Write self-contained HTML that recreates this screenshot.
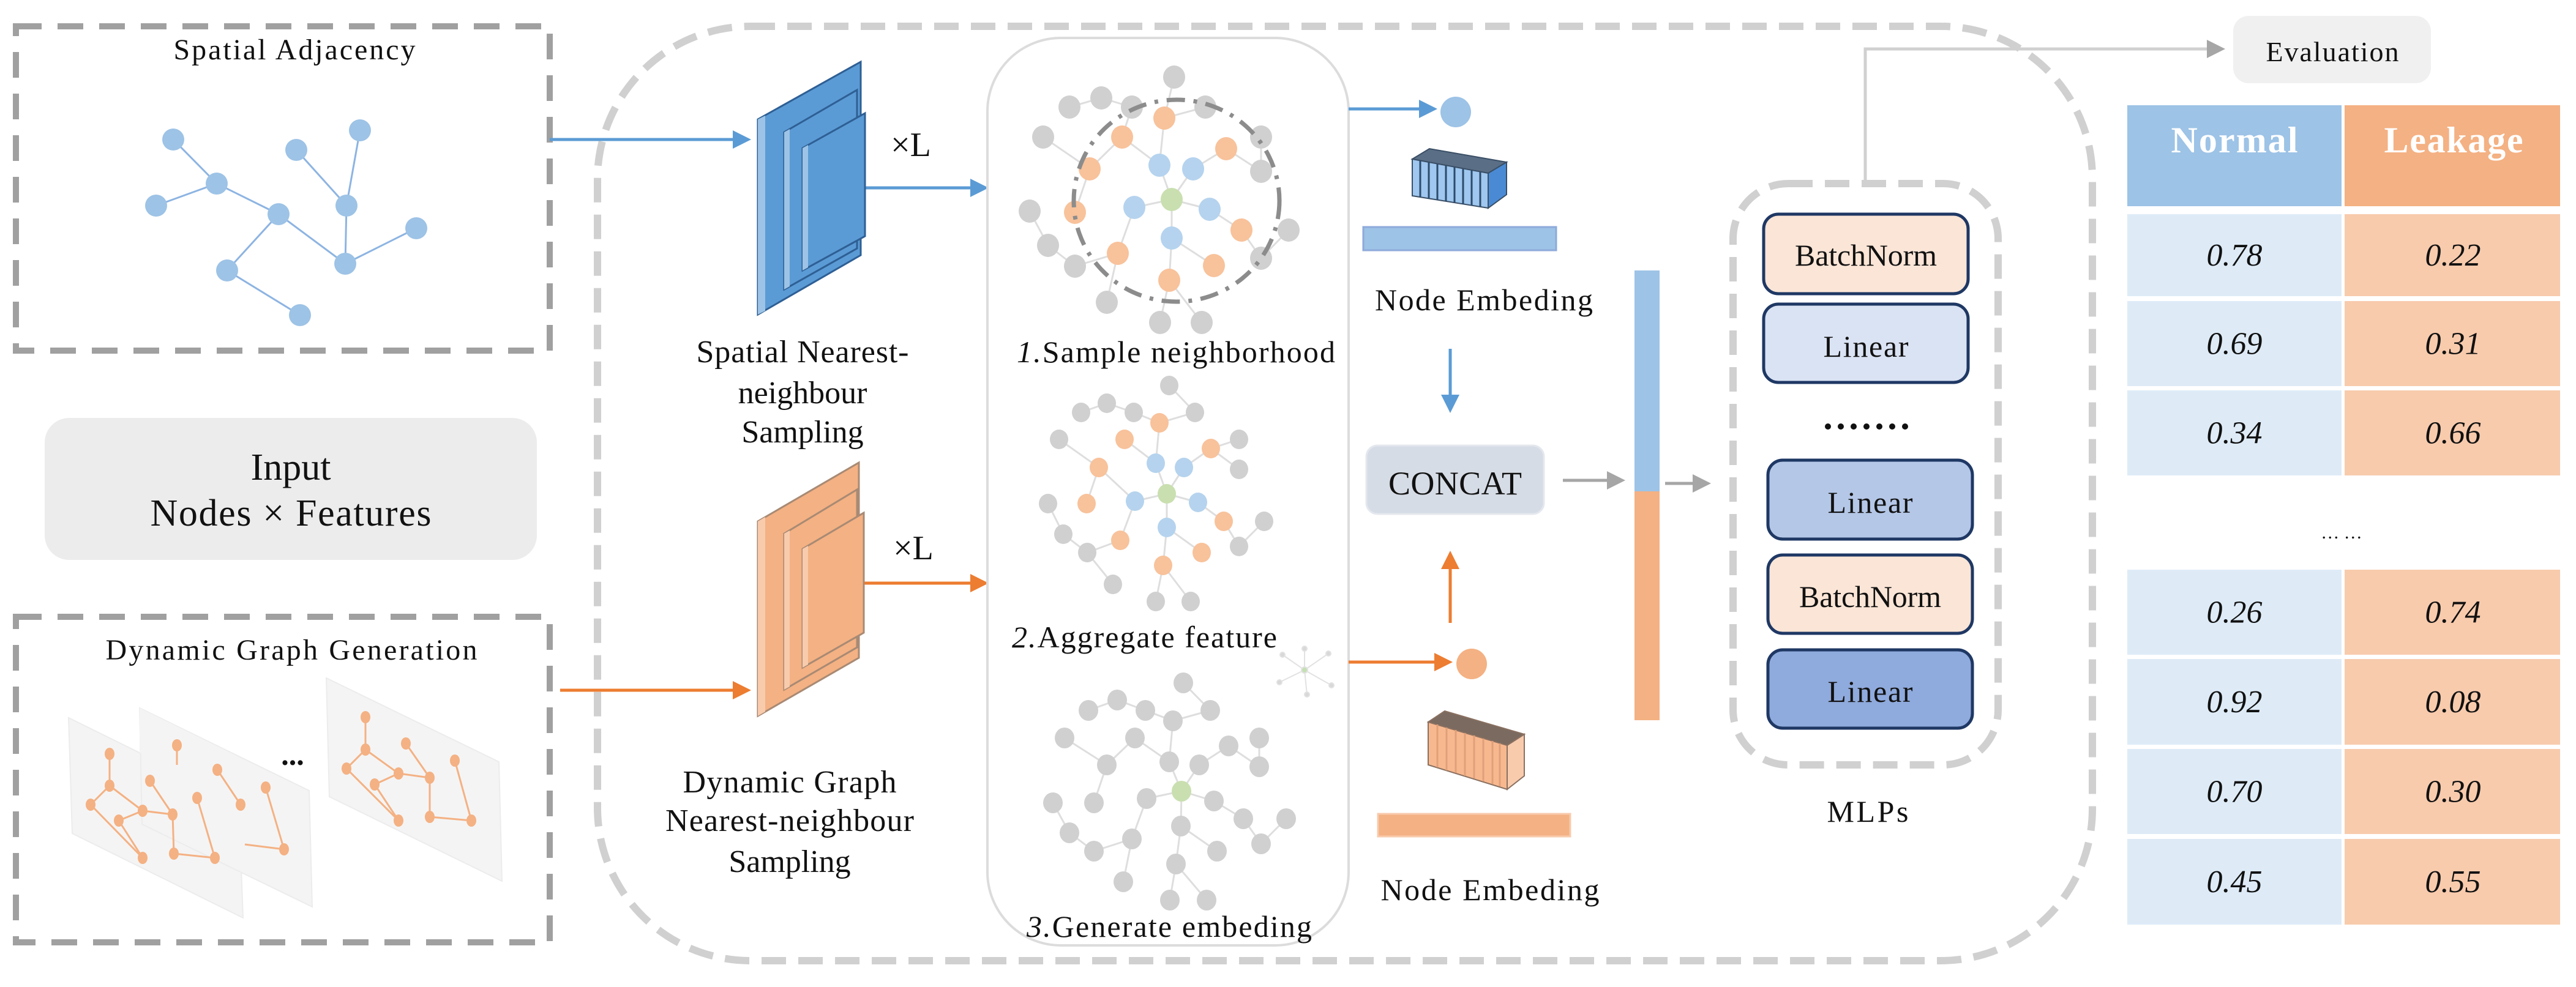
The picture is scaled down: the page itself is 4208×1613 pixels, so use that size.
<!DOCTYPE html>
<html><head><meta charset="utf-8"><style>
html,body{margin:0;padding:0;background:#fff;}
svg{display:block;font-family:"Liberation Serif","DejaVu Serif","Times New Roman",serif;}
svg text{font-family:"Liberation Serif","DejaVu Serif","Times New Roman",serif !important;fill:#111;}
</style></head><body>
<svg id="s" width="4208" height="1613" viewBox="0 0 4208 1613" xmlns="http://www.w3.org/2000/svg" font-family="Liberation Serif, DejaVu Serif, serif">
<defs>
<marker id="ab" markerWidth="6" markerHeight="6" refX="5" refY="3" orient="auto" markerUnits="strokeWidth"><path d="M0,0 L6,3 L0,6 z" fill="#5b9bd5"/></marker>
<marker id="ao" markerWidth="6" markerHeight="6" refX="5" refY="3" orient="auto" markerUnits="strokeWidth"><path d="M0,0 L6,3 L0,6 z" fill="#ed7d31"/></marker>
<marker id="ag" markerWidth="6" markerHeight="6" refX="5" refY="3" orient="auto" markerUnits="strokeWidth"><path d="M0,0 L6,3 L0,6 z" fill="#a6a6a6"/></marker>
</defs>

<path d="M1226,43 H3170 A248,248 0 0 1 3418,291 V1322 A248,248 0 0 1 3170,1570 H1226 A250,250 0 0 1 976,1320 V293 A250,250 0 0 1 1226,43 Z" fill="none" stroke="#d0d0d0" stroke-width="12" stroke-dasharray="40 20"/>

<rect x="26" y="43" width="872" height="530" fill="none" stroke="#a0a0a0" stroke-width="10" stroke-dasharray="42 26"/>
<rect x="26" y="1008" width="872" height="532" fill="none" stroke="#a0a0a0" stroke-width="10" stroke-dasharray="42 26"/>
<rect x="73" y="683" width="804" height="232" rx="40" fill="#ececec"/>
<text x="481" y="97" font-size="48" text-anchor="middle" textLength="395">Spatial Adjacency</text>
<text x="475" y="784" font-size="62" text-anchor="middle">Input</text>
<text x="475" y="859" font-size="62" text-anchor="middle" textLength="459">Nodes × Features</text>
<text x="476" y="1078" font-size="48" text-anchor="middle" textLength="607">Dynamic Graph Generation</text>

<g stroke="#8db4e2" stroke-width="3">
<line x1="283" y1="228" x2="354" y2="300"/><line x1="354" y1="300" x2="255" y2="336"/><line x1="354" y1="300" x2="455" y2="350"/><line x1="455" y1="350" x2="371" y2="442"/><line x1="371" y1="442" x2="490" y2="515"/><line x1="455" y1="350" x2="564" y2="431"/><line x1="564" y1="431" x2="566" y2="336"/><line x1="566" y1="336" x2="484" y2="245"/><line x1="566" y1="336" x2="588" y2="213"/><line x1="564" y1="431" x2="680" y2="373"/>
</g>
<g fill="#9dc3e6">
<circle cx="283" cy="228" r="18"/><circle cx="354" cy="300" r="18"/><circle cx="255" cy="336" r="18"/><circle cx="455" cy="350" r="18"/><circle cx="484" cy="245" r="18"/><circle cx="588" cy="213" r="18"/><circle cx="566" cy="336" r="18"/><circle cx="564" cy="431" r="18"/><circle cx="680" cy="373" r="18"/><circle cx="371" cy="442" r="18"/><circle cx="490" cy="515" r="18"/>
</g>

<g fill="#f4f4f4" stroke="#ececec" stroke-width="2">
<polygon points="112,1173 390,1310 397,1500 118,1362"/>
<polygon points="228,1157 505,1292 510,1482 232,1347"/>
<polygon points="533,1108 815,1245 820,1440 538,1302"/>
</g>
<polygon points="228,1157 390,1237 390,1310 228,1230" fill="#f4f4f4"/>
<g stroke="#f4b183" stroke-width="3" fill="none">
<polyline points="179,1232 179,1284 148,1315 233,1402"/><polyline points="179,1284 233,1325 282,1331 284,1395 351,1402"/><polyline points="194,1341 233,1325"/><polyline points="194,1341 233,1402"/><polyline points="245,1276 282,1331"/><polyline points="322,1304 351,1402"/>
<polyline points="289,1218 289,1250"/><polyline points="355,1258 393,1315"/><polyline points="434,1287 464,1388 400,1380"/>
<polyline points="597,1172 597,1225 566,1256 651,1341"/><polyline points="597,1225 651,1264 702,1271 702,1335 770,1341"/><polyline points="612,1282 651,1264"/><polyline points="612,1282 651,1341"/><polyline points="663,1215 702,1271"/><polyline points="743,1243 770,1341"/>
</g>
<g fill="#f4b183">
<ellipse cx="179" cy="1232" rx="8" ry="10"/><ellipse cx="179" cy="1284" rx="8" ry="10"/><ellipse cx="148" cy="1315" rx="8" ry="10"/><ellipse cx="194" cy="1341" rx="8" ry="10"/><ellipse cx="233" cy="1325" rx="8" ry="10"/><ellipse cx="245" cy="1276" rx="8" ry="10"/><ellipse cx="282" cy="1331" rx="8" ry="10"/><ellipse cx="322" cy="1304" rx="8" ry="10"/><ellipse cx="233" cy="1402" rx="8" ry="10"/><ellipse cx="284" cy="1395" rx="8" ry="10"/><ellipse cx="351" cy="1402" rx="8" ry="10"/>
<ellipse cx="289" cy="1218" rx="8" ry="10"/><ellipse cx="355" cy="1258" rx="8" ry="10"/><ellipse cx="393" cy="1315" rx="8" ry="10"/><ellipse cx="434" cy="1287" rx="8" ry="10"/><ellipse cx="464" cy="1388" rx="8" ry="10"/>
<ellipse cx="597" cy="1172" rx="8" ry="10"/><ellipse cx="597" cy="1225" rx="8" ry="10"/><ellipse cx="566" cy="1256" rx="8" ry="10"/><ellipse cx="612" cy="1282" rx="8" ry="10"/><ellipse cx="651" cy="1264" rx="8" ry="10"/><ellipse cx="663" cy="1215" rx="8" ry="10"/><ellipse cx="702" cy="1271" rx="8" ry="10"/><ellipse cx="743" cy="1243" rx="8" ry="10"/><ellipse cx="651" cy="1341" rx="8" ry="10"/><ellipse cx="702" cy="1335" rx="8" ry="10"/><ellipse cx="770" cy="1341" rx="8" ry="10"/>
</g>
<text x="478" y="1250" font-size="50" text-anchor="middle" font-weight="bold">...</text>

<line x1="898" y1="228" x2="1222" y2="228" stroke="#5b9bd5" stroke-width="5" marker-end="url(#ab)"/>
<line x1="915" y1="1128" x2="1222" y2="1128" stroke="#ed7d31" stroke-width="5" marker-end="url(#ao)"/>
<line x1="1412" y1="307" x2="1610" y2="307" stroke="#5b9bd5" stroke-width="5" marker-end="url(#ab)"/>
<line x1="1412" y1="953" x2="1610" y2="953" stroke="#ed7d31" stroke-width="5" marker-end="url(#ao)"/>

<g stroke="#2e5f94" stroke-width="3">
<polygon points="1238,195 1406,101 1406,417 1238,514" fill="#5b9bd5"/>
<polygon points="1238,195 1250,189 1250,508 1238,514" fill="#9dc3e6" stroke="none"/>
<polygon points="1281,216 1400,147 1400,406 1281,473" fill="#5b9bd5"/>
<polygon points="1281,216 1290,211 1290,468 1281,473" fill="#9dc3e6" stroke="none"/>
<polygon points="1311,242 1413,185 1413,386 1311,442" fill="#5b9bd5"/>
<polygon points="1311,242 1320,237 1320,437 1311,442" fill="#9dc3e6" stroke="none"/>
</g>
<g stroke="#a88a74" stroke-width="3">
<polygon points="1238,852 1403,756 1403,1075 1238,1170" fill="#f4b183"/>
<polygon points="1238,852 1250,845 1250,1163 1238,1170" fill="#f8cbad" stroke="none"/>
<polygon points="1281,872 1400,800 1400,1058 1281,1127" fill="#f4b183"/>
<polygon points="1281,872 1290,867 1290,1122 1281,1127" fill="#f8cbad" stroke="none"/>
<polygon points="1311,897 1411,838 1411,1034 1311,1091" fill="#f4b183"/>
<polygon points="1311,897 1320,892 1320,1086 1311,1091" fill="#f8cbad" stroke="none"/>
</g>
<text x="1488" y="255" font-size="56" text-anchor="middle">×L</text>
<text x="1492" y="914" font-size="56" text-anchor="middle">×L</text>
<g font-size="52" text-anchor="middle">
<text x="1311" y="592" textLength="347">Spatial Nearest-</text>
<text x="1311" y="659">neighbour</text>
<text x="1311" y="723">Sampling</text>
<text x="1290" y="1295" textLength="349">Dynamic Graph</text>
<text x="1290" y="1358" textLength="406">Nearest-neighbour</text>
<text x="1290" y="1425">Sampling</text>
</g>

<rect x="1613" y="62" width="590" height="1483" rx="120" fill="#fff" stroke="#dcdcdc" stroke-width="4"/>
<g id="edges" stroke="#dedede" stroke-width="3"></g>
<g id="nodes"></g>
<ellipse cx="1922" cy="328" rx="168" ry="165" fill="none" stroke="#8c8c8c" stroke-width="7" stroke-dasharray="30 14 6 14"/>
<g font-size="50">
<text x="1661" y="592" textLength="520"><tspan font-style="italic">1.</tspan>Sample neighborhood</text>
<text x="1653" y="1058" textLength="433"><tspan font-style="italic">2.</tspan>Aggregate feature</text>
<text x="1677" y="1531" textLength="466"><tspan font-style="italic">3.</tspan>Generate embeding</text>
</g>
<g stroke="#e2e2e2" stroke-width="2" fill="#d8d8d8">
<line x1="2131" y1="1095" x2="2095" y2="1070"/><line x1="2131" y1="1095" x2="2170" y2="1068"/><line x1="2131" y1="1095" x2="2090" y2="1115"/><line x1="2131" y1="1095" x2="2175" y2="1120"/><line x1="2131" y1="1095" x2="2131" y2="1060"/><line x1="2131" y1="1095" x2="2135" y2="1135"/>
<circle cx="2095" cy="1070" r="4"/><circle cx="2170" cy="1068" r="4"/><circle cx="2090" cy="1115" r="4"/><circle cx="2175" cy="1120" r="4"/><circle cx="2131" cy="1060" r="4"/><circle cx="2135" cy="1135" r="4"/><circle cx="2131" cy="1095" r="5" fill="#c5e0b4"/>
</g>

<line x1="2203" y1="178" x2="2343" y2="178" stroke="#5b9bd5" stroke-width="5" marker-end="url(#ab)"/>
<circle cx="2378" cy="183" r="25" fill="#9dc3e6"/>
<g stroke="#3a4f66" stroke-width="2">
<polygon points="2307,260 2335,243 2461,265 2431,283" fill="#5a6f86"/>
<polygon points="2431,283 2461,265 2461,318 2431,340" fill="#4a8ad4"/>
<polygon points="2307,260 2431,283 2431,340 2307,320" fill="#9fc7ef"/>
</g>
<g stroke="#2d4b6b" stroke-width="3">
<line x1="2320" y1="262" x2="2320" y2="322"/><line x1="2334" y1="265" x2="2334" y2="325"/><line x1="2348" y1="268" x2="2348" y2="327"/><line x1="2362" y1="270" x2="2362" y2="329"/><line x1="2376" y1="273" x2="2376" y2="331"/><line x1="2390" y1="276" x2="2390" y2="334"/><line x1="2404" y1="278" x2="2404" y2="336"/><line x1="2418" y1="281" x2="2418" y2="338"/>
</g>
<rect x="2227" y="371" width="315" height="38" fill="#9dc3e6" stroke="#8eaadb" stroke-width="3"/>
<text x="2424" y="507" font-size="50" text-anchor="middle" textLength="356">Node Embeding</text>
<line x1="2369" y1="570" x2="2369" y2="670" stroke="#5b9bd5" stroke-width="5" marker-end="url(#ab)"/>
<rect x="2232" y="728" width="290" height="112" rx="18" fill="#d6dce5" stroke="#e4e8ee" stroke-width="3"/>
<text x="2377" y="808" font-size="54" text-anchor="middle" textLength="218">CONCAT</text>
<line x1="2369" y1="1018" x2="2369" y2="905" stroke="#ed7d31" stroke-width="5" marker-end="url(#ao)"/>
<line x1="2203" y1="1082" x2="2368" y2="1082" stroke="#ed7d31" stroke-width="5" marker-end="url(#ao)"/>
<circle cx="2404" cy="1085" r="25" fill="#f4b183"/>
<g stroke="#8a7060" stroke-width="2">
<polygon points="2333,1180 2360,1162 2490,1200 2462,1218" fill="#7a6a60"/>
<polygon points="2462,1218 2490,1200 2490,1268 2462,1290" fill="#f8cbad"/>
<polygon points="2333,1180 2462,1218 2462,1290 2333,1250" fill="#f8b88f"/>
</g>
<g stroke="#e0a07a" stroke-width="3">
<line x1="2348" y1="1184" x2="2348" y2="1254"/><line x1="2363" y1="1189" x2="2363" y2="1259"/><line x1="2378" y1="1193" x2="2378" y2="1263"/><line x1="2393" y1="1198" x2="2393" y2="1268"/><line x1="2408" y1="1202" x2="2408" y2="1272"/><line x1="2423" y1="1207" x2="2423" y2="1277"/><line x1="2438" y1="1211" x2="2438" y2="1281"/><line x1="2450" y1="1215" x2="2450" y2="1285"/>
</g>
<rect x="2251" y="1330" width="314" height="37" fill="#f4b183" stroke="#f8cbad" stroke-width="3"/>
<text x="2434" y="1471" font-size="50" text-anchor="middle" textLength="357">Node Embeding</text>

<line x1="2553" y1="785" x2="2650" y2="785" stroke="#a6a6a6" stroke-width="5" marker-end="url(#ag)"/>
<rect x="2670" y="442" width="41" height="361" fill="#9dc3e6"/>
<rect x="2670" y="803" width="41" height="374" fill="#f4b183"/>
<line x1="2720" y1="790" x2="2790" y2="790" stroke="#a6a6a6" stroke-width="5" marker-end="url(#ag)"/>

<rect x="2831" y="300" width="433" height="950" rx="90" fill="none" stroke="#d0d0d0" stroke-width="12" stroke-dasharray="40 20"/>
<polyline points="3047,300 3047,80 3630,80" fill="none" stroke="#d0d0d0" stroke-width="5" marker-end="url(#ag)"/>
<rect x="3648" y="26" width="323" height="110" rx="25" fill="#f0f0f0"/>
<text x="3810" y="100" font-size="46" text-anchor="middle" textLength="217">Evaluation</text>
<g stroke="#1f3864" stroke-width="5">
<rect x="2881" y="350" width="334" height="130" rx="24" fill="#fbe5d6"/>
<rect x="2881" y="497" width="334" height="128" rx="24" fill="#dae3f3"/>
<rect x="2888" y="752" width="334" height="129" rx="24" fill="#b4c7e7"/>
<rect x="2888" y="907" width="334" height="128" rx="24" fill="#fbe5d6"/>
<rect x="2888" y="1062" width="334" height="128" rx="24" fill="#8faadc"/>
</g>
<g font-size="50" text-anchor="middle">
<text x="3048" y="434" textLength="232">BatchNorm</text>
<text x="3048" y="583" textLength="139">Linear</text>
<text x="3055" y="838" textLength="139">Linear</text>
<text x="3055" y="992" textLength="232">BatchNorm</text>
<text x="3055" y="1147" textLength="139">Linear</text>
<text x="3051" y="1343" textLength="133">MLPs</text>
</g>
<g fill="#111"><circle cx="2986" cy="697" r="5"/><circle cx="3007" cy="697" r="5"/><circle cx="3028" cy="697" r="5"/><circle cx="3049" cy="697" r="5"/><circle cx="3070" cy="697" r="5"/><circle cx="3091" cy="697" r="5"/><circle cx="3112" cy="697" r="5"/></g>

<rect x="3475" y="172" width="350" height="165" fill="#9dc3e6"/>
<rect x="3830" y="172" width="352" height="165" fill="#f4b183"/>
<text x="3650" y="249" font-size="60" font-weight="bold" text-anchor="middle" style="fill:#fff" textLength="207">Normal</text>
<text x="4008" y="249" font-size="60" font-weight="bold" text-anchor="middle" style="fill:#fff" textLength="227">Leakage</text>
<g id="rows"></g>
<text x="3825" y="880" font-size="30" text-anchor="middle">… …</text>
</svg>
<script>
(function(){
var NS="http://www.w3.org/2000/svg";
function el(t,a,p){var e=document.createElementNS(NS,t);for(var k in a)e.setAttribute(k,a[k]);p.appendChild(e);return e;}
var rows=document.getElementById('rows');
var data=[[350,484,"0.78","0.22"],[492,631,"0.69","0.31"],[638,777,"0.34","0.66"],[931,1070,"0.26","0.74"],[1077,1217,"0.92","0.08"],[1224,1363,"0.70","0.30"],[1371,1511,"0.45","0.55"]];
data.forEach(function(d){
el('rect',{x:3475,y:d[0],width:350,height:d[1]-d[0],fill:'#deebf7'},rows);
el('rect',{x:3830,y:d[0],width:352,height:d[1]-d[0],fill:'#f8cbad'},rows);
var c=(d[0]+d[1])/2+17;
var t=el('text',{x:3650,y:c,'font-size':52,'font-style':'italic','text-anchor':'middle'},rows);t.textContent=d[2];
var t2=el('text',{x:4007,y:c,'font-size':52,'font-style':'italic','text-anchor':'middle'},rows);t2.textContent=d[3];
});
var G='#d0d0d0',O='#f8c29b',B='#b5d3ee',N='#c9dfb0';
var g1={c:[1914,326],r:18,g:[[1918,126],[1747,175],[1799,160],[1849,175],[1969,175],[1704,224],[2060,224],[2060,280],[1682,345],[2105,376],[1712,401],[2060,422],[1756,435],[1808,494],[1895,527],[1963,527]],
o:[[1902,193],[1833,224],[2003,243],[1780,276],[1756,347],[2028,376],[1826,414],[1983,434],[1910,458]],
b:[[1894,270],[1949,276],[1853,339],[1976,342],[1914,389]]};
var g2={c:[1906,807],r:15,g:[[1910,630],[1808,659],[1766,674],[1852,674],[1952,674],[1730,718],[2024,718],[2024,767],[1712,823],[2065,852],[1737,873],[2024,893],[1776,903],[1818,955],[1888,983],[1945,983]],
o:[[1894,691],[1837,718],[1978,733],[1795,764],[1775,823],[1999,852],[1830,883],[1963,903],[1900,924]],
b:[[1888,757],[1934,764],[1854,819],[1957,821],[1906,862]]};
var g3={c:[1930,1293],r:16,g:[[1933,1116],[1825,1144],[1778,1161],[1871,1161],[1977,1161],[1916,1178],[1739,1206],[1854,1206],[2057,1206],[2007,1219],[1910,1245],[1959,1250],[1808,1250],[2057,1253],[1720,1312],[1787,1312],[1873,1305],[1983,1309],[2031,1338],[2101,1338],[1747,1361],[1849,1371],[1929,1350],[1787,1391],[1988,1391],[2060,1379],[1921,1412],[1835,1441],[1911,1471],[1971,1471]],o:[],b:[]};
var E=document.getElementById('edges'),Nd=document.getElementById('nodes');
[g1,g2,g3].forEach(function(g){
var all=[{p:g.c,f:N}];
g.b.forEach(function(p){all.push({p:p,f:B});});
g.o.forEach(function(p){all.push({p:p,f:O});});
g.g.forEach(function(p){all.push({p:p,f:G});});
function dc(p){return Math.hypot(p[0]-g.c[0],p[1]-g.c[1]);}
all.forEach(function(n){
 if(n.p===g.c)return;var d0=dc(n.p),best=null,bd=1e9;
 all.forEach(function(m){if(dc(m.p)<d0-10){var d=Math.hypot(m.p[0]-n.p[0],m.p[1]-n.p[1]);if(d<bd){bd=d;best=m;}}});
 if(best)el('line',{x1:n.p[0],y1:n.p[1],x2:best.p[0],y2:best.p[1]},E);
});
all.forEach(function(n){el('ellipse',{cx:n.p[0],cy:n.p[1],rx:g.r,ry:g.r+1,fill:n.f},Nd);});
});
})();
</script>
</body></html>
